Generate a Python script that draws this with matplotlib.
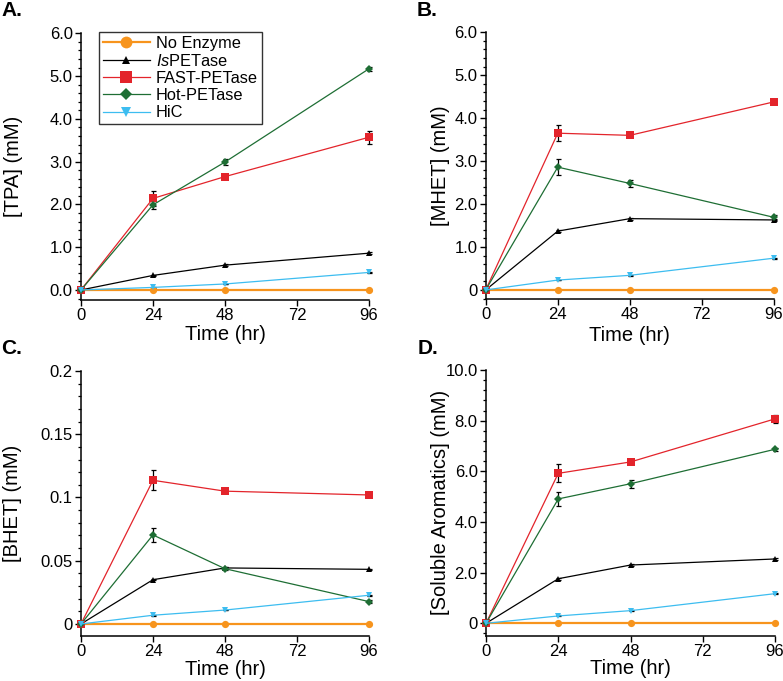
import matplotlib
matplotlib.use("Agg")
import matplotlib.pyplot as plt
from matplotlib.ticker import AutoMinorLocator

plt.rcParams['font.family'] = ['Liberation Sans', 'DejaVu Sans']
plt.rcParams['mathtext.fontset'] = 'custom'
plt.rcParams['mathtext.it'] = 'Liberation Sans:italic'
plt.rcParams['mathtext.rm'] = 'Liberation Sans'

time = [0, 24, 48, 96]
series_names = ["No Enzyme", "$\\mathit{Is}$PETase", "FAST-PETase", "Hot-PETase", "HiC"]

# Panel A: TPA
tpa = {
    "none": [0, 0, 0, 0],
    "is":   [0, 0.34, 0.58, 0.86],
    "fast": [0, 2.14, 2.65, 3.57],
    "hot":  [0, 1.99, 2.99, 5.17],
    "hic":  [0, 0.06, 0.14, 0.41],
}
tpa_err = {
    "none": [0, 0, 0, 0],
    "is":   [0, 0.02, 0.02, 0.02],
    "fast": [0, 0.17, 0.04, 0.15],
    "hot":  [0, 0.10, 0.08, 0.05],
    "hic":  [0, 0.01, 0.01, 0.01],
}
# Panel B: MHET
mhet = {
    "none": [0, 0, 0, 0],
    "is":   [0, 1.37, 1.66, 1.63],
    "fast": [0, 3.65, 3.60, 4.38],
    "hot":  [0, 2.86, 2.48, 1.69],
    "hic":  [0, 0.23, 0.34, 0.74],
}
mhet_err = {
    "none": [0, 0, 0, 0],
    "is":   [0, 0.02, 0.02, 0.03],
    "fast": [0, 0.18, 0.03, 0.05],
    "hot":  [0, 0.18, 0.08, 0.05],
    "hic":  [0, 0.01, 0.01, 0.01],
}
# Panel C: BHET
bhet = {
    "none": [0, 0, 0, 0],
    "is":   [0, 0.035, 0.0443, 0.0432],
    "fast": [0, 0.1136, 0.105, 0.102],
    "hot":  [0, 0.0704, 0.0437, 0.0177],
    "hic":  [0, 0.0069, 0.011, 0.0227],
}
bhet_err = {
    "none": [0, 0, 0, 0],
    "is":   [0, 0.0005, 0.0005, 0.0005],
    "fast": [0, 0.008, 0.001, 0.001],
    "hot":  [0, 0.0056, 0.001, 0.001],
    "hic":  [0, 0.0003, 0.0003, 0.0005],
}
# Panel D: Soluble aromatics
arom = {
    "none": [0, 0, 0, 0],
    "is":   [0, 1.76, 2.30, 2.54],
    "fast": [0, 5.92, 6.37, 8.07],
    "hot":  [0, 4.91, 5.51, 6.87],
    "hic":  [0, 0.29, 0.50, 1.17],
}
arom_err = {
    "none": [0, 0, 0, 0],
    "is":   [0, 0.04, 0.04, 0.04],
    "fast": [0, 0.35, 0.10, 0.17],
    "hot":  [0, 0.28, 0.15, 0.05],
    "hic":  [0, 0.02, 0.02, 0.03],
}

keys = ["none", "is", "fast", "hot", "hic"]
colors = {"none": "#F7941D", "is": "#000000", "fast": "#E3242B", "hot": "#1E6E34", "hic": "#3DBDF0"}
markers = {"none": "o", "is": "^", "fast": "s", "hot": "D", "hic": "v"}
msizes = {"none": 5.2, "is": 4.5, "fast": 5.4, "hot": 4.0, "hic": 5.0}
leg_msizes = {"none": 8.5, "is": 6.0, "fast": 8.5, "hot": 6.0, "hic": 6.5}
lws = {"none": 1.6, "is": 0.9, "fast": 0.9, "hot": 0.9, "hic": 0.9}

xticks = [0, 24, 48, 72, 96]
a_ticks = [0, 1, 2, 3, 4, 5, 6]
a_labels = ["0.0", "1.0", "2.0", "3.0", "4.0", "5.0", "6.0"]
b_ticks = [0, 1, 2, 3, 4, 5, 6]
b_labels = ["0", "1.0", "2.0", "3.0", "4.0", "5.0", "6.0"]
c_ticks = [0, 0.05, 0.1, 0.15, 0.2]
c_labels = ["0", "0.05", "0.1", "0.15", "0.2"]
d_ticks = [0, 2, 4, 6, 8, 10]
d_labels = ["0", "2.0", "4.0", "6.0", "8.0", "10.0"]

fig = plt.figure(figsize=(7.83, 6.81), dpi=100)

panels = [
    dict(rect=[0.1034, 0.5595, 0.3678, 0.3916], data=tpa, err=tpa_err, ylim=(-0.234, 6.0),
         ticks=a_ticks, labels=a_labels, ylabel="[TPA] (mM)", letter="A.", lpos=(0.002, 0.999),
         ylc=-0.200, xlc=-0.092),
    dict(rect=[0.6203, 0.5610, 0.3682, 0.3916], data=mhet, err=mhet_err, ylim=(-0.21, 6.0),
         ticks=b_ticks, labels=b_labels, ylabel="[MHET] (mM)", letter="B.", lpos=(0.532, 0.999),
         ylc=-0.124, xlc=-0.100),
    dict(rect=[0.1034, 0.0661, 0.3678, 0.3891], data=bhet, err=bhet_err, ylim=(-0.0095, 0.2),
         ticks=c_ticks, labels=c_labels, ylabel="[BHET] (mM)", letter="C.", lpos=(0.002, 0.502),
         ylc=-0.205, xlc=-0.089),
    dict(rect=[0.6207, 0.0665, 0.3691, 0.3902], data=arom, err=arom_err, ylim=(-0.49, 10.0),
         ticks=d_ticks, labels=d_labels, ylabel="[Soluble Aromatics] (mM)", letter="D.",
         lpos=(0.533, 0.502), ylc=-0.125, xlc=-0.089),
]

for i, p in enumerate(panels):
    ax = fig.add_axes(p["rect"])
    handles = []
    for k in keys:
        ax.errorbar(time, p["data"][k], yerr=p["err"][k], fmt="none",
                    ecolor="black", elinewidth=0.9, capsize=1.8, capthick=0.9,
                    clip_on=False, zorder=2)
    for k in keys:
        (h,) = ax.plot(time, p["data"][k], color=colors[k], marker=markers[k],
                       markersize=msizes[k], lw=lws[k], markeredgewidth=0,
                       clip_on=False, zorder=3)
        handles.append(h)
    ax.set_xlim(0, 96)
    ax.set_ylim(*p["ylim"])
    ax.spines["top"].set_visible(False)
    ax.spines["right"].set_visible(False)
    ax.spines["left"].set_linewidth(1.1)
    ax.spines["bottom"].set_linewidth(1.1)
    ax.set_xticks(xticks)
    ax.set_yticks(p["ticks"])
    ax.set_yticklabels(p["labels"])
    ax.yaxis.set_minor_locator(AutoMinorLocator(5))
    ax.tick_params(axis="both", which="major", direction="out", length=4, width=1.0,
                   labelsize=12, pad=2)
    ax.tick_params(axis="y", which="minor", direction="out", length=2.2, width=0.9)
    ax.set_xlabel("Time (hr)", fontsize=14.5)
    ax.set_ylabel(p["ylabel"], fontsize=14.5)
    ax.yaxis.set_label_coords(p["ylc"], 0.5)
    ax.xaxis.set_label_coords(0.5, p["xlc"])
    fig.text(p["lpos"][0], p["lpos"][1], p["letter"], fontsize=15, fontweight="bold",
             ha="left", va="top")
    if i == 0:
        leg = ax.legend(handles, series_names, loc="upper left", bbox_to_anchor=(0.063, 1.004),
                        fontsize=11.8, frameon=True, fancybox=False, edgecolor="black",
                        handlelength=2.9, handletextpad=0.35, labelspacing=0.13,
                        borderpad=0.22, borderaxespad=0)
        leg.get_frame().set_linewidth(1.0)
        for lh, k in zip(leg.legend_handles, keys):
            lh.set_markersize(leg_msizes[k])

fig.savefig("out.png", dpi=100)
